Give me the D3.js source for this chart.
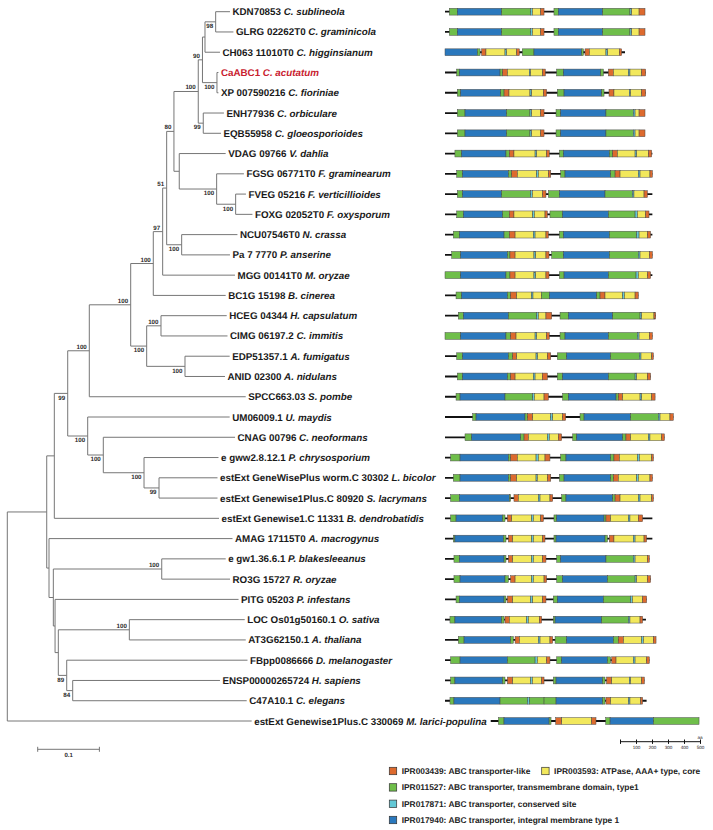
<!DOCTYPE html>
<html><head><meta charset="utf-8">
<script src="https://cdn.jsdelivr.net/npm/d3@7"></script>
<style>body{margin:0;background:#fff}svg{display:block}text{text-rendering:geometricPrecision}</style>
</head><body><svg id="c" width="713" height="830"></svg>
<script>
// ---------- DATA ----------
// tree: [id, parent, branch length, bootstrap], listed in preorder (top to bottom)
const treeNodes = [
 ["R","",0,""],["N1","R",0.0639,""],["N2","N1",0.0123,""],["N3","N2",0.0217,"99"],
 ["N4","N3",0.0350,"100"],["N5","N4",0.0671,"100"],["N6","N5",0.0366,"100"],
 ["N7","N6",0.0152,"97"],["N8","N7",0.0065,"51"],["N9","N8",0.0118,"80"],
 ["N10","N9",0.0394,"100"],["N11","N10",0.0068,"90"],["N12","N11",0.0041,""],
 ["N13","N12",0.0173,"98"],["L0","N13",0.0232,""],["L1","N13",0.0288,""],
 ["L2","N12",0.0243,""],["N14","N11",0.0235,"100"],["L3","N14",0.0024,""],["L4","N14",0.0024,""],
 ["N15","N10",0.0081,"99"],["L5","N15",0.0335,""],["L6","N15",0.0287,""],
 ["N16","N9",0.0086,""],["L7","N16",0.0752,""],["N17","N16",0.0606,"100"],["L8","N17",0.0442,""],
 ["N18","N17",0.0308,"100"],["L9","N18",0.0167,""],["L10","N18",0.0272,""],
 ["N19","N8",0.0243,"100"],["L11","N19",0.0904,""],["L12","N19",0.0783,""],
 ["L13","N7",0.1172,""],["L14","N6",0.1173,""],
 ["N20","N5",0.0259,"100"],["N21","N20",0.0232,"100"],["L15","N21",0.1065,""],["L16","N21",0.1078,""],
 ["N22","N20",0.0621,"100"],["L17","N22",0.0724,""],["L18","N22",0.0648,""],
 ["L19","N4",0.2535,""],
 ["N23","N3",0.0324,"100"],["L20","N23",0.2301,""],["N24","N23",0.0253,"100"],["L21","N24",0.2135,""],
 ["N25","N24",0.0660,"100"],["L22","N25",0.1207,""],["N26","N25",0.0243,"99"],["L23","N26",0.0948,""],["L24","N26",0.0948,""],
 ["L25","N2",0.2669,""],
 ["N27","N1",0.0037,""],["L26","N27",0.2974,""],["N28","N27",0.0070,""],
 ["N29","N28",0.1757,"100"],["L27","N29",0.1037,""],["L28","N29",0.1107,""],
 ["N30","N28",0.0028,""],["L29","N30",0.2974,""],["N31","N30",0.0053,""],
 ["N32","N31",0.1151,"100"],["L30","N32",0.1870,""],["L31","N32",0.1887,""],
 ["N33","N31",0.0136,"89"],["L32","N33",0.2930,""],["N34","N33",0.0097,"84"],["L33","N34",0.2387,""],["L34","N34",0.2820,""],
 ["L35","R",0.3961,""]
];
const geneIds = ["KDN70853","GLRG 02262T0","CH063 11010T0","CaABC1","XP 007590216","ENH77936","EQB55958","VDAG 09766","FGSG 06771T0","FVEG 05216","FOXG 02052T0","NCU07546T0","Pa 7 7770","MGG 00141T0","BC1G 15198","HCEG 04344","CIMG 06197.2","EDP51357.1","ANID 02300","SPCC663.03","UM06009.1","CNAG 00796","e gww2.8.12.1","estExt GeneWisePlus worm.C 30302","estExt Genewise1Plus.C 80920","estExt Genewise1.C 11331","AMAG 17115T0","e gw1.36.6.1","RO3G 15727","PITG 05203","LOC Os01g50160.1","AT3G62150.1","FBpp0086666","ENSP00000265724","C47A10.1","estExt Genewise1Plus.C 330069"];
const speciesNames = ["C. sublineola","C. graminicola","C. higginsianum","C. acutatum","C. fioriniae","C. orbiculare","C. gloeosporioides","V. dahlia","F. graminearum","F. verticillioides","F. oxysporum","N. crassa","P. anserine","M. oryzae","B. cinerea","H. capsulatum","C. immitis","A. fumigatus","A. nidulans","S. pombe","U. maydis","C. neoformans","P. chrysosporium","L. bicolor","S. lacrymans","B. dendrobatidis","A. macrogynus","P. blakesleeanus","R. oryzae","P. infestans","O. sativa","A. thaliana","D. melanogaster","H. sapiens","C. elegans","M. larici-populina"];
const highlightIndex = 3;

// protein lengths (aa)
const proteinLengths = [1250,1250,1125,1254,1254,1250,1250,1296,1296,1296,1296,1296,1296,1296,1208,1317,1296,1302,1285,1313,1427,1371,1302,1296,1302,1296,1296,1277,1285,1260,1256,1319,1277,1246,1260,1302];
// domain segments [type, start aa, end aa]
const domainSegments = [
 [["g",27,77],["b",77,354],["g",354,535],["c",535,546],["y",546,598],["o",598,619],["g",681,708],["b",708,985],["g",985,1156],["c",1156,1167],["y",1167,1213],["o",1213,1250]],
 [["g",27,77],["b",77,354],["g",354,535],["c",535,546],["y",546,598],["o",598,619],["g",681,708],["b",708,985],["g",985,1156],["c",1156,1167],["y",1167,1213],["o",1213,1250]],
 [["b",0,202],["g",202,219],["o",229,256],["y",256,375],["c",375,385],["y",385,448],["o",448,465],["g",483,556],["b",556,854],["g",854,865],["o",875,902],["y",902,1006],["c",1006,1017],["y",1017,1090],["o",1090,1104]],
 [["g",73,90],["b",90,344],["g",344,360],["o",360,390],["y",390,527],["c",527,535],["y",535,610],["o",610,627],["g",698,740],["b",740,973],["g",973,990],["o",1021,1052],["y",1052,1146],["c",1146,1156],["y",1156,1229],["o",1229,1254]],
 [["g",77,98],["b",98,348],["g",348,369],["o",369,400],["y",400,531],["c",531,542],["y",542,615],["o",615,635],["g",702,744],["b",744,979],["g",979,994],["o",1025,1056],["y",1056,1152],["c",1152,1160],["y",1160,1229],["o",1229,1254]],
 [["g",77,125],["b",125,385],["g",385,531],["c",531,542],["y",542,598],["o",598,619],["g",694,723],["b",723,1006],["g",1006,1177],["c",1177,1188],["y",1188,1213],["o",1213,1250]],
 [["g",77,125],["b",125,385],["g",385,531],["c",531,542],["y",542,598],["o",598,619],["g",694,723],["b",723,1006],["g",1006,1177],["c",1177,1188],["y",1188,1213],["o",1213,1250]],
 [["g",62,104],["b",104,381],["g",381,402],["o",402,431],["y",431,563],["c",563,573],["y",573,635],["o",635,652],["g",715,740],["b",740,1027],["g",1027,1048],["o",1048,1077],["y",1077,1188],["c",1188,1198],["y",1198,1271],["o",1271,1292]],
 [["g",73,110],["b",110,396],["g",396,417],["o",417,452],["y",452,573],["c",573,583],["y",583,646],["o",646,661],["g",723,750],["b",750,1035],["g",1035,1063],["o",1063,1094],["y",1094,1208],["c",1208,1219],["y",1219,1281],["o",1281,1296]],
 [["g",77,110],["b",110,354],["g",354,535],["c",535,546],["y",546,610],["o",610,631],["g",646,715],["b",715,1000],["g",1000,1171],["c",1171,1181],["y",1181,1244],["o",1244,1265]],
 [["g",73,115],["b",115,360],["g",360,402],["o",402,431],["y",431,548],["c",548,558],["y",558,625],["o",625,640],["g",656,735],["b",735,1021],["g",1021,1188],["c",1188,1202],["y",1202,1254],["o",1254,1275]],
 [["g",52,90],["b",90,369],["g",369,402],["o",402,438],["y",438,552],["c",552,563],["y",563,631],["o",631,646],["g",715,740],["b",740,1027],["g",1027,1198],["c",1198,1213],["y",1213,1265],["o",1265,1285]],
 [["g",42,98],["b",98,390],["g",390,406],["o",406,438],["y",438,556],["c",556,567],["y",567,631],["o",631,650],["g",667,740],["b",740,1027],["g",1027,1208],["c",1208,1219],["y",1219,1277],["o",1277,1296]],
 [["g",0,98],["b",98,381],["g",381,406],["o",406,438],["y",438,556],["c",556,567],["y",567,631],["o",631,650],["g",715,744],["b",744,1021],["g",1021,1194],["c",1194,1208],["y",1208,1265],["o",1265,1285]],
 [["g",69,104],["b",104,390],["g",390,410],["o",410,448],["y",448,540],["c",540,550],["y",550,604],["g",604,652],["b",652,948],["g",948,969],["o",969,1000],["y",1000,1110],["c",1110,1121],["y",1121,1188],["o",1188,1208]],
 [["g",83,115],["b",115,396],["g",396,573],["c",573,583],["y",583,631],["o",631,667],["g",719,771],["b",771,1048],["g",1048,1219],["c",1219,1229],["y",1229,1306],["o",1306,1317]],
 [["g",0,98],["b",98,381],["g",381,410],["o",410,444],["y",444,563],["c",563,573],["y",573,635],["o",635,652],["g",719,750],["b",750,1021],["g",1021,1202],["c",1202,1213],["y",1213,1277],["o",1277,1296]],
 [["g",73,110],["b",110,396],["g",396,423],["o",423,448],["y",448,569],["c",569,579],["y",579,640],["o",640,661],["g",702,760],["b",760,1035],["g",1035,1215],["c",1215,1225],["y",1225,1292],["o",1292,1302]],
 [["g",77,110],["b",110,390],["g",390,410],["o",410,438],["y",438,552],["c",552,563],["y",563,608],["o",608,640],["g",702,735],["b",735,1021],["g",1021,1188],["c",1188,1198],["y",1198,1265],["o",1265,1285]],
 [["g",69,94],["b",94,375],["g",375,548],["c",548,558],["y",558,619],["o",619,646],["g",735,771],["b",771,1069],["g",1069,1083],["o",1083,1110],["y",1110,1219],["c",1219,1229],["y",1229,1292],["o",1292,1313]],
 [["g",173,194],["b",194,500],["g",500,515],["o",515,548],["y",548,660],["c",660,673],["y",673,735],["o",735,754],["g",844,869],["b",869,1160],["g",1160,1333],["c",1333,1344],["y",1344,1406],["o",1406,1427]],
 [["g",125,167],["b",167,473],["g",473,494],["o",494,521],["y",521,640],["c",640,652],["y",652,708],["o",708,729],["g",798,823],["b",823,1110],["g",1110,1131],["o",1131,1160],["y",1160,1271],["c",1271,1281],["y",1281,1354],["o",1354,1371]],
 [["g",35,94],["b",94,396],["g",396,410],["o",410,452],["y",452,569],["c",569,583],["y",583,625],["o",625,656],["g",723,756],["b",756,1035],["g",1035,1056],["o",1056,1090],["y",1090,1202],["c",1202,1215],["y",1215,1292],["o",1292,1302]],
 [["g",52,94],["b",94,396],["g",396,410],["o",410,448],["y",448,569],["c",569,577],["y",577,640],["o",640,661],["g",715,744],["b",744,1035],["g",1035,1052],["o",1052,1083],["y",1083,1198],["c",1198,1208],["y",1208,1281],["o",1281,1296]],
 [["g",35,90],["b",90,402],["g",402,410],["o",431,458],["y",458,583],["c",583,594],["y",594,656],["o",656,673],["g",729,756],["b",756,1048],["g",1048,1063],["o",1063,1094],["y",1094,1208],["c",1208,1219],["y",1219,1292],["o",1292,1302]],
 [["g",35,69],["b",69,360],["g",360,375],["o",390,417],["y",417,542],["c",542,552],["y",552,598],["o",598,615],["g",681,698],["b",698,994],["g",994,1006],["o",1006,1035],["y",1035,1146],["c",1146,1156],["y",1156,1208],["o",1208,1235]],
 [["g",52,62],["b",62,365],["g",365,381],["o",396,423],["y",423,542],["c",542,552],["y",552,610],["o",610,625],["g",681,694],["b",694,1000],["g",1000,1015],["o",1027,1056],["y",1056,1177],["c",1177,1188],["y",1188,1244],["o",1244,1260]],
 [["g",56,90],["b",90,369],["g",369,381],["o",396,423],["y",423,542],["c",542,552],["y",552,610],["o",610,631],["g",698,723],["b",723,1006],["g",1006,1177],["c",1177,1188],["y",1188,1265],["o",1265,1277]],
 [["g",56,94],["b",94,375],["g",375,396],["o",410,438],["y",438,542],["c",542,552],["y",552,619],["o",619,635],["g",698,735],["b",735,1015],["g",1015,1188],["c",1188,1198],["y",1198,1265],["o",1265,1285]],
 [["g",69,90],["b",90,369],["g",369,381],["o",390,423],["y",423,535],["c",535,548],["y",548,610],["o",610,631],["g",677,702],["b",702,990],["g",990,1160],["c",1160,1171],["y",1171,1235],["o",1235,1260]],
 [["g",31,62],["b",62,354],["g",354,369],["o",375,402],["y",402,510],["c",510,521],["y",521,590],["o",590,604],["g",677,688],["b",688,979],["g",979,1146],["c",1146,1156],["y",1156,1219],["o",1219,1235]],
 [["g",83,119],["b",119,410],["g",410,427],["o",438,465],["y",465,583],["c",583,594],["y",594,656],["o",656,673],["g",688,760],["b",760,1052],["g",1052,1083],["o",1083,1115],["y",1115,1229],["c",1229,1240],["y",1240,1302],["o",1302,1319]],
 [["g",35,94],["b",94,390],["g",390,563],["c",563,577],["y",577,635],["o",635,656],["g",698,729],["b",729,1015],["g",1015,1035],["o",1042,1069],["y",1069,1177],["c",1177,1188],["y",1188,1260],["o",1260,1277]],
 [["g",35,62],["b",62,360],["g",360,375],["o",390,423],["y",423,535],["c",535,546],["y",546,604],["o",604,619],["g",677,694],["b",694,985],["g",985,1000],["o",1010,1042],["y",1042,1152],["c",1152,1160],["y",1160,1229],["o",1229,1246]],
 [["g",31,56],["b",56,344],["g",344,515],["c",515,527],["g",527,619],["g",619,694],["b",694,985],["g",985,1000],["o",1006,1035],["y",1035,1146],["c",1146,1156],["y",1156,1223],["o",1223,1235]],
 [["g",48,83],["b",83,365],["g",365,377],["o",406,444],["y",444,631],["o",631,658],["g",719,746],["b",746,1017],["g",1017,1302]]
];
const domainCodes = ["o","y","g","c","b"];
const domainLabels = ["IPR003439: ABC transporter-like","IPR003593: ATPase, AAA+ type, core","IPR011527: ABC transporter, transmembrane domain, type1","IPR017871: ABC transporter, conserved site","IPR017940: ABC transporter, integral membrane type 1"];
const domainColors = ["#dd6a2e","#f2e85c","#6fbe4a","#62c8d6","#2a78bd"];
const aaTicks = [0,100,200,300,400,500];
const treeScaleBar = 0.1;

// ---------- DRAW ----------
const svg = d3.select("#c");
const font = "Arial, 'Liberation Sans', sans-serif";
const colorOf = d3.scaleOrdinal().domain(domainCodes).range(domainColors);

const root = d3.stratify().id(d => d[0]).parentId(d => d[1] || null)(treeNodes);
root.each(n => { n.dist = n.parent ? n.parent.dist + n.data[2] : 0; });
const leaves = root.leaves();
const rowY = d3.scaleLinear().domain([0, leaves.length - 1]).range([11.7, 721]);
leaves.forEach(l => { l.row = +l.id.slice(1); l.y = rowY(l.row); });
root.eachAfter(n => { if (n.children) n.y = (n.children[0].y + n.children[n.children.length - 1].y) / 2; });
const xT = d3.scaleLinear().domain([0, 1]).range([7.3, 624.3]);

const gT = svg.append("g").attr("stroke", "#767676").attr("stroke-width", 1).attr("fill", "none");
root.descendants().forEach(n => {
  if (n.parent) gT.append("line").attr("x1", xT(n.parent.dist)).attr("x2", xT(n.dist)).attr("y1", n.y).attr("y2", n.y);
  if (n.children) gT.append("line").attr("x1", xT(n.dist)).attr("x2", xT(n.dist))
      .attr("y1", n.children[0].y).attr("y2", n.children[n.children.length - 1].y);
});
// bootstrap values
root.descendants().filter(n => n.children && n.data[3]).forEach(n => {
  const upper = n.parent && n.parent.children[0] === n && n.parent.data[3] !== "";
  const above = n.parent && n.parent.children[0] === n && !(n.parent.data[3] === "" && n.parent.children[1].children === undefined);
  svg.append("text").attr("x", xT(n.dist) - 2.5).attr("y", above ? n.y - 2 : n.y + 6.3)
    .attr("text-anchor", "end").attr("font-family", font).attr("font-size", 6.2).attr("font-weight", "bold")
    .attr("fill", "#2a2a2a").text(n.data[3]);
});
// leaf labels
const labelEnds = [];
leaves.forEach(l => {
  const i = l.row;
  const t = svg.append("text").attr("x", xT(l.dist) + 2.5).attr("y", l.y + 3.5)
    .attr("font-family", font).attr("font-size", 9.8).attr("font-weight", "bold")
    .attr("fill", i === highlightIndex ? "#c8202e" : "#1a1a1a");
  t.append("tspan").text(geneIds[i] + " ");
  t.append("tspan").attr("font-style", "italic").text(speciesNames[i]);
  labelEnds[i] = xT(l.dist) + 2.5 + t.node().getComputedTextLength();
});
// tree scale bar
const sbX = 37.7, sbY = 749.3, sbW = xT(treeScaleBar) - xT(0);
const gS = svg.append("g").attr("stroke", "#767676").attr("stroke-width", 1);
gS.append("line").attr("x1", sbX).attr("x2", sbX + sbW).attr("y1", sbY).attr("y2", sbY);
gS.append("line").attr("x1", sbX).attr("x2", sbX).attr("y1", sbY - 2.5).attr("y2", sbY + 2.5);
gS.append("line").attr("x1", sbX + sbW).attr("x2", sbX + sbW).attr("y1", sbY - 2.5).attr("y2", sbY + 2.5);
svg.append("text").attr("x", sbX + sbW / 2).attr("y", sbY + 7.3).attr("text-anchor", "middle")
  .attr("font-family", font).attr("font-size", 6).attr("font-weight", "bold").attr("fill", "#2a2a2a").text(treeScaleBar);

// domain architectures
const xA = d3.scaleLinear().domain([0, 500]).range([0, 80]);
const boxH = 6.8;
leaves.forEach(l => {
  const i = l.row;
  const x0 = Math.max(445, labelEnds[i] + 4);
  const g = svg.append("g").attr("transform", `translate(${x0},${l.y})`);
  g.append("line").attr("x1", xA(0)).attr("x2", xA(proteinLengths[i])).attr("y1", 0).attr("y2", 0)
    .attr("stroke", "#111").attr("stroke-width", 1.8);
  g.selectAll("rect").data(domainSegments[i]).join("rect")
    .attr("x", d => xA(d[1])).attr("width", d => xA(d[2]) - xA(d[1]))
    .attr("y", -boxH / 2).attr("height", boxH)
    .attr("fill", d => colorOf(d[0]))
    .attr("stroke", "#4a4a4a").attr("stroke-width", 0.5);
});

// aa scale
const axG = svg.append("g").attr("transform", "translate(620,741.7)");
axG.call(d3.axisBottom(xA).tickValues(aaTicks).tickSize(2.2).tickPadding(1.5).tickFormat(d => d ? d : ""));
axG.select(".domain").attr("stroke", "#111").attr("stroke-width", 1).attr("d", `M0,0H${xA(500)}`);
axG.selectAll(".tick line").attr("stroke", "#111").attr("y1", -2.2);
axG.selectAll(".tick text").attr("font-family", font).attr("font-size", 4.6).attr("fill", "#222");
axG.append("text").attr("x", xA(500)).attr("y", -3).attr("text-anchor", "middle")
  .attr("font-family", font).attr("font-size", 4.6).attr("fill", "#222").text("aa");

// legend
const legendPos = [[389.3, 771], [541.7, 771], [389.3, 787.4], [389.3, 803.8], [389.3, 820]];
domainCodes.forEach((c, k) => {
  const [lx, ly] = legendPos[k];
  svg.append("rect").attr("x", lx).attr("y", ly - 3.7).attr("width", 7.4).attr("height", 7.4)
    .attr("fill", colorOf(c)).attr("stroke", "#333").attr("stroke-width", 0.7);
  svg.append("text").attr("x", lx + 12.4).attr("y", ly + 3)
    .attr("font-family", font).attr("font-size", 8.4).attr("font-weight", "bold").attr("fill", "#222")
    .text(domainLabels[k]);
});
</script>
</body></html>
